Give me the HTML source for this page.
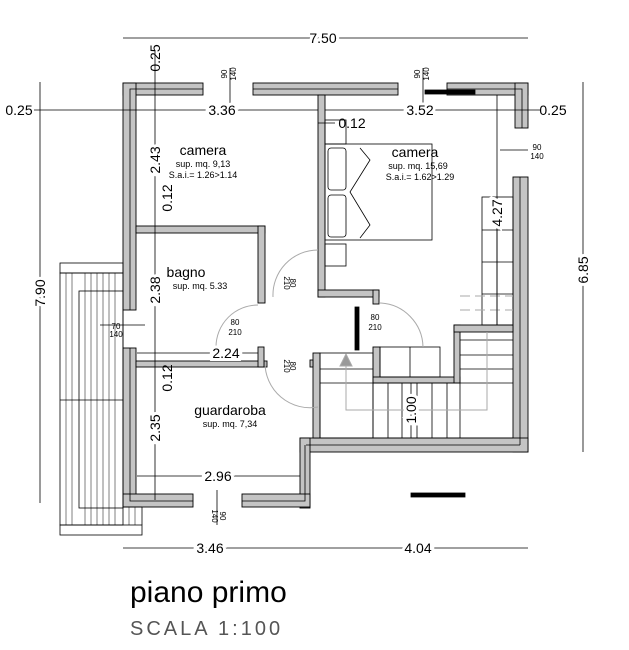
<!DOCTYPE html>
<html><head><meta charset="utf-8"><style>
html,body{margin:0;padding:0;background:#fff;}
svg{display:block;font-family:"Liberation Sans",sans-serif;}
</style></head><body>
<svg width="629" height="650" viewBox="0 0 629 650" xmlns="http://www.w3.org/2000/svg">
<g stroke="#000" stroke-width="0.9" fill="#c4c4c4">
<rect x="123" y="83" width="80" height="12"/>
<rect x="253" y="83" width="145" height="12"/>
<rect x="447" y="83" width="81" height="12"/>
<rect x="123" y="83" width="13" height="227"/>
<rect x="123" y="348" width="13" height="159"/>
<rect x="515" y="83" width="13" height="45"/>
<rect x="513" y="177" width="15" height="275"/>
<rect x="300" y="438" width="228" height="14"/>
<rect x="300" y="438" width="10" height="70"/>
<rect x="123" y="494" width="70" height="13"/>
<rect x="242" y="494" width="68" height="13"/>
<rect x="318" y="95" width="7" height="202"/>
<rect x="318" y="290" width="61" height="7"/>
<rect x="373" y="290" width="6" height="14"/>
<rect x="136" y="226" width="129" height="7"/>
<rect x="258" y="226" width="7" height="77"/>
<rect x="136" y="361" width="131" height="6"/>
<rect x="258" y="347" width="6" height="20"/>
<rect x="313" y="353" width="7" height="85"/>
<rect x="310" y="360" width="3" height="7"/>
<rect x="373" y="347" width="7" height="36"/>
<rect x="373" y="377" width="87" height="6"/>
<rect x="454" y="325" width="6" height="58"/>
<rect x="454" y="325" width="59" height="7"/>
</g>
<g stroke="#000" stroke-width="0.8" fill="none">
<polyline points="130,310 130,89 203,89"/>
<polyline points="130,348 130,501 193,501"/>
<line x1="253" y1="89" x2="398" y2="89"/>
<polyline points="447,89 522,89 522,128"/>
<line x1="520" y1="177" x2="520" y2="445"/>
<line x1="306" y1="445" x2="520" y2="445"/>
<polyline points="305,445 305,501 242,501"/>
<rect x="425" y="90" width="50" height="4" fill="#000"/>
<rect x="411" y="493" width="54" height="4" fill="#000"/>
<rect x="355" y="307" width="4" height="43" fill="#000"/>
<rect x="325" y="144" width="107" height="96"/>
<rect x="328" y="148" width="18" height="42" rx="3"/>
<rect x="328" y="195" width="18" height="42" rx="3"/>
<polyline points="360,148 370,160 350,192 370,225 360,238"/>
<rect x="325" y="120" width="21" height="24"/>
<rect x="325" y="244" width="21" height="22"/>
<rect x="482" y="197" width="31" height="128"/>
<line x1="497" y1="197" x2="497" y2="325"/>
<line x1="482" y1="230" x2="513" y2="230"/>
<line x1="482" y1="262" x2="513" y2="262"/>
<line x1="482" y1="294" x2="513" y2="294"/>
<rect x="320" y="353" width="53" height="85"/>
<line x1="320" y1="369" x2="373" y2="369"/>
<line x1="320" y1="383" x2="513" y2="383"/>
<line x1="320" y1="438" x2="513" y2="438"/>
<rect x="380" y="347" width="60" height="30"/>
<line x1="410" y1="347" x2="410" y2="377"/>
<line x1="373" y1="383" x2="373" y2="438"/>
<line x1="388" y1="383" x2="388" y2="438"/>
<line x1="402" y1="383" x2="402" y2="438"/>
<line x1="417" y1="383" x2="417" y2="438"/>
<line x1="432" y1="383" x2="432" y2="438"/>
<line x1="447" y1="383" x2="447" y2="438"/>
<line x1="460" y1="383" x2="460" y2="438"/>
<line x1="460" y1="340" x2="513" y2="340"/>
<line x1="460" y1="355" x2="513" y2="355"/>
<line x1="460" y1="369" x2="513" y2="369"/>
<rect x="60" y="263" width="63" height="10"/>
<rect x="60" y="273" width="63" height="252"/>
<rect x="60" y="525" width="82" height="10"/>
<line x1="123" y1="507" x2="142" y2="507"/>
<line x1="142" y1="507" x2="142" y2="525"/>
<line x1="60" y1="400" x2="123" y2="400"/>
<rect x="79" y="291" width="44" height="217"/>
</g>
<g stroke="#000" stroke-width="0.5">
<line x1="66" y1="273" x2="66" y2="525"/><line x1="72" y1="273" x2="72" y2="525"/>
<line x1="85" y1="273" x2="85" y2="525"/><line x1="91" y1="273" x2="91" y2="525"/>
<line x1="97" y1="273" x2="97" y2="525"/><line x1="103" y1="273" x2="103" y2="525"/>
<line x1="109" y1="273" x2="109" y2="525"/><line x1="115" y1="273" x2="115" y2="525"/>
<line x1="129" y1="507" x2="129" y2="525"/><line x1="135" y1="507" x2="135" y2="525"/>
</g>
<g stroke="#aaa" stroke-width="1" fill="none">
<path d="M380,303 A45,45 0 0 1 423,347"/>
<path d="M216,347 A42,42 0 0 1 258,305"/>
<path d="M273,297 A45,45 0 0 1 318,250"/>
<path d="M265,362 A45,45 0 0 0 318,407"/>
<polyline points="346,362 346,410 487,410 487,332"/>
<line x1="460" y1="296" x2="513" y2="296" stroke-dasharray="10,5"/>
<line x1="460" y1="310" x2="513" y2="310" stroke-dasharray="10,5"/>
<polygon points="346,354 340,366 352,366" fill="#999"/>
</g>
<g stroke="#000" stroke-width="0.8" fill="none">
<line x1="123" y1="38" x2="528" y2="38"/>
<line x1="123" y1="548" x2="528" y2="548"/>
<line x1="40" y1="82" x2="40" y2="503"/>
<line x1="583" y1="82" x2="583" y2="452"/>
<line x1="34" y1="110" x2="318" y2="110"/>
<line x1="325" y1="110" x2="540" y2="110"/>
<line x1="155" y1="50" x2="155" y2="500"/>
<line x1="137" y1="353" x2="258" y2="353"/>
<line x1="137" y1="476" x2="300" y2="476"/>
<line x1="497" y1="95" x2="497" y2="325"/>
<line x1="411" y1="383" x2="411" y2="438"/>
<line x1="318" y1="123" x2="335" y2="123"/>
<line x1="230" y1="68" x2="230" y2="108"/>
<line x1="423" y1="68" x2="423" y2="108"/>
<line x1="500" y1="150" x2="528" y2="150"/>
<line x1="100" y1="325" x2="145" y2="325"/>
<line x1="217" y1="490" x2="217" y2="525"/>
</g>
<g font-size="14" fill="#000" text-anchor="middle">
<text x="323" y="43" style="paint-order:stroke" stroke="#fff" stroke-width="6">7.50</text>
<text x="210" y="553" stroke="#fff" stroke-width="6" style="paint-order:stroke">3.46</text>
<text x="418" y="553" stroke="#fff" stroke-width="6" style="paint-order:stroke">4.04</text>
<text x="222" y="115" stroke="#fff" stroke-width="6" style="paint-order:stroke">3.36</text>
<text x="420" y="115" stroke="#fff" stroke-width="6" style="paint-order:stroke">3.52</text>
<text x="19" y="115">0.25</text>
<text x="553" y="115">0.25</text>
<text x="352" y="128">0.12</text>
<text x="226" y="358" stroke="#fff" stroke-width="6" style="paint-order:stroke">2.24</text>
<text x="218" y="481" stroke="#fff" stroke-width="6" style="paint-order:stroke">2.96</text>
<text transform="translate(45,293) rotate(-90)" stroke="#fff" stroke-width="6" style="paint-order:stroke">7.90</text>
<text transform="translate(588,270) rotate(-90)" stroke="#fff" stroke-width="6" style="paint-order:stroke">6.85</text>
<text transform="translate(160,58) rotate(-90)">0.25</text>
<text transform="translate(160,160) rotate(-90)" stroke="#fff" stroke-width="6" style="paint-order:stroke">2.43</text>
<text transform="translate(172,198) rotate(-90)">0.12</text>
<text transform="translate(160,290) rotate(-90)" stroke="#fff" stroke-width="6" style="paint-order:stroke">2.38</text>
<text transform="translate(172,378) rotate(-90)">0.12</text>
<text transform="translate(160,428) rotate(-90)" stroke="#fff" stroke-width="6" style="paint-order:stroke">2.35</text>
<text transform="translate(502,213) rotate(-90)" stroke="#fff" stroke-width="6" style="paint-order:stroke">4.27</text>
<text transform="translate(416,410) rotate(-90)" stroke="#fff" stroke-width="6" style="paint-order:stroke">1.00</text>
</g>
<g fill="#000" text-anchor="middle">
<text x="203" y="155" font-size="14">camera</text>
<text x="203" y="167" font-size="9">sup.  mq. 9,13</text>
<text x="203" y="178" font-size="9">S.a.i.=  1.26&gt;1.14</text>
<text x="415" y="157" font-size="14">camera</text>
<text x="418" y="169" font-size="9">sup.  mq. 15,69</text>
<text x="420" y="180" font-size="9">S.a.i.=  1.62&gt;1.29</text>
<text x="186" y="277" font-size="14">bagno</text>
<text x="200" y="289" font-size="9">sup.  mq. 5.33</text>
<text x="230" y="415" font-size="14">guardaroba</text>
<text x="230" y="427" font-size="9">sup.  mq. 7,34</text>
<g font-size="8">
<text x="375" y="320">80</text><text x="375" y="330">210</text>
<text x="235" y="325">80</text><text x="235" y="335">210</text>
<text x="116" y="329">70</text><text x="116" y="337">140</text>
<text x="537" y="150">90</text><text x="537" y="159">140</text>
<text transform="translate(290,283) rotate(90)">80</text>
<text transform="translate(284,283) rotate(90)">210</text>
<text transform="translate(290,366) rotate(90)">80</text>
<text transform="translate(284,366) rotate(90)">210</text>
<text transform="translate(227,74) rotate(-90)">90</text>
<text transform="translate(236,74) rotate(-90)">140</text>
<text transform="translate(420,74) rotate(-90)">90</text>
<text transform="translate(429,74) rotate(-90)">140</text>
<text transform="translate(220,516) rotate(90)">90</text>
<text transform="translate(212,516) rotate(90)">140</text>
</g>
</g>
<text x="130" y="602" font-size="30" fill="#000">piano primo</text>
<text x="130" y="635" font-size="20" fill="#555" letter-spacing="3">SCALA 1:100</text>
</svg>
</body></html>
